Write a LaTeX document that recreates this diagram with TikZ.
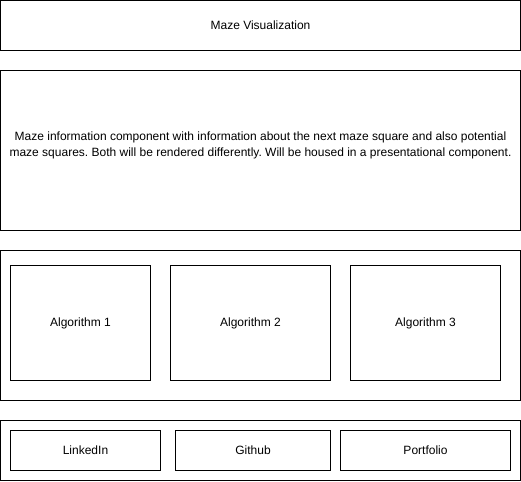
\documentclass[tikz,border=0pt]{standalone}
\usepackage{fontspec}
\setmainfont{Liberation Sans}
\frenchspacing
\begin{document}
\begin{tikzpicture}[x=1pt,y=-1pt,
  box/.style={draw=black, line width=1pt, fill=white},
  lbl/.style={font=\fontsize{12}{16}\selectfont, align=center, inner sep=0pt}]
\useasboundingbox[fill=white] (0,0) rectangle (521,481);
% outer boxes
\draw[box] (0.5,0.5) rectangle (520.5,50.5);
\node[lbl] (top) at (260.5,25.5) {Maze Visualization};
\draw[box] (0.5,70.5) rectangle (520.5,230.5);
\node[lbl] (info) at (260.5,145.5) {\frenchspacing Maze information component with information about the next maze square and also potential\\maze squares. Both will be rendered differently. Will be housed in a presentational component.};
\draw[box] (0.5,250.5) rectangle (520.5,400.5);
\draw[box] (0.5,420.5) rectangle (520.5,480.5);
% algorithm boxes
\draw[box] (10.5,265.5) rectangle (150.5,380.5);
\node[lbl] (a1) at (80.5,323.5) {Algorithm 1};
\draw[box] (170.5,265.5) rectangle (330.5,380.5);
\node[lbl] (a2) at (250.5,323.5) {Algorithm 2};
\draw[box] (350.5,265.5) rectangle (500.5,380.5);
\node[lbl] (a3) at (425.5,323.5) {Algorithm 3};
% link boxes
\draw[box] (10.5,430.5) rectangle (160.5,470.5);
\node[lbl] (l1) at (85.5,450.5) {LinkedIn};
\draw[box] (175.5,430.5) rectangle (330.5,470.5);
\node[lbl] (l2) at (253,450.5) {Github};
\draw[box] (340.5,430.5) rectangle (510.5,470.5);
\node[lbl] (l3) at (425.5,450.5) {Portfolio};
\end{tikzpicture}
\end{document}
